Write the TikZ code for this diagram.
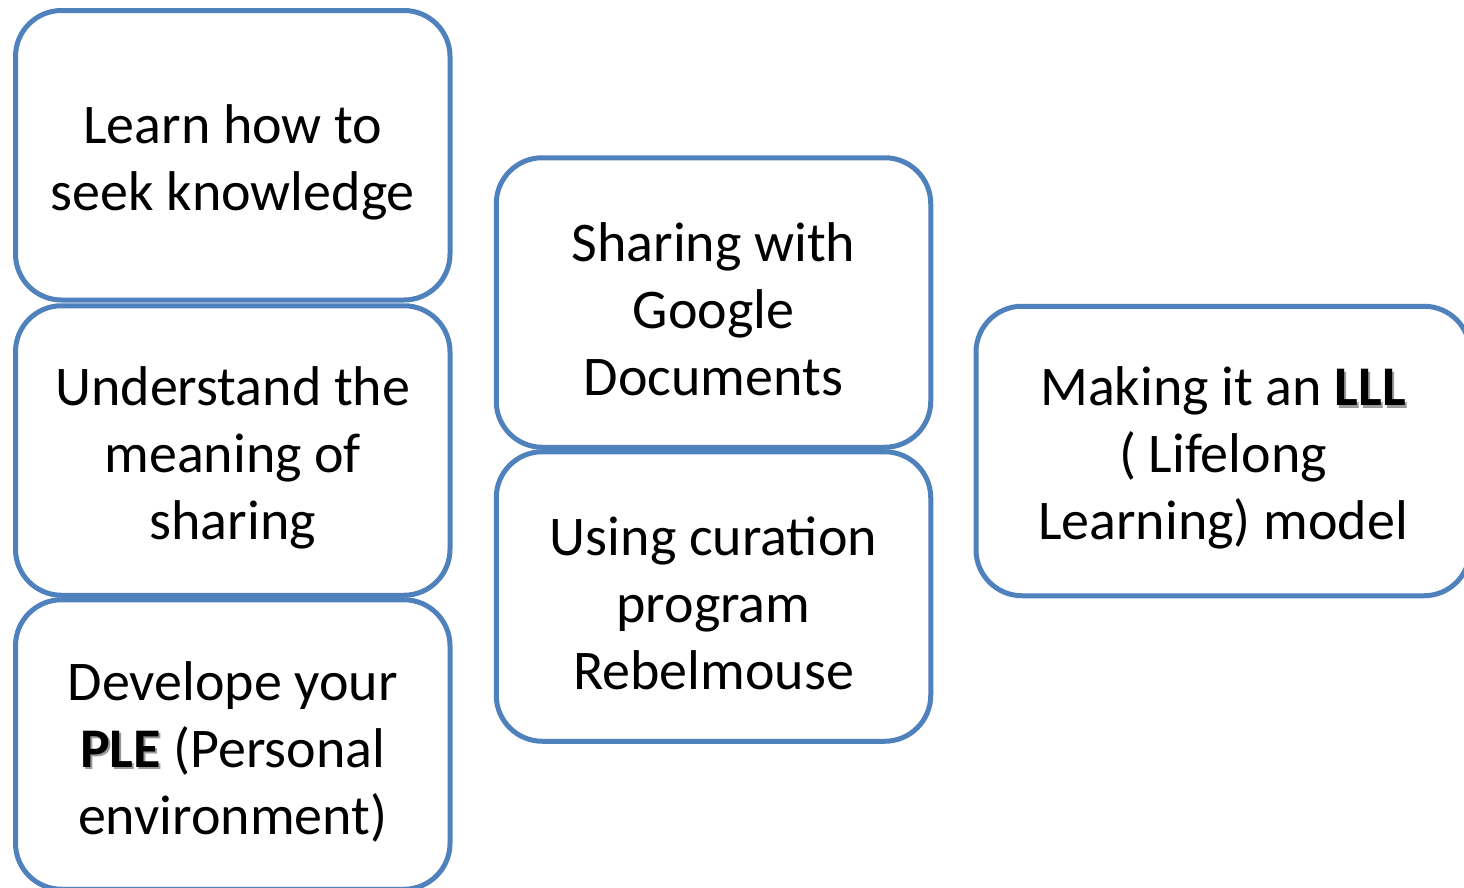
\documentclass[tikz,border=0pt]{standalone}
\usepackage{fontspec}
\setmainfont{Carlito}
\definecolor{boxblue}{HTML}{4F81BD}
\definecolor{shadowgray}{HTML}{9A9A9A}
\newcommand{\shbold}[1]{\makebox[0pt][l]{\hspace{2pt}\raisebox{-2.5pt}{\color{shadowgray}\textbf{#1}}}\textbf{#1}}
\newcommand{\tstrut}{\rule{0pt}{53pt}}
\begin{document}
\begin{tikzpicture}[x=1pt,y=-1pt,
  card/.style={draw=boxblue, line width=5pt, rounded corners=46pt, fill=white,
    minimum width=434.5pt, minimum height=289.5pt, inner sep=0pt,
    align=center, font=\fontsize{56pt}{67pt}\selectfont, text=black}]
\useasboundingbox (0,0) rectangle (1464,887);
\clip (0,0) rectangle (1464,887);
\node[card] (learn) at (232.75,155.25) {\tstrut Learn how to\\seek knowledge};
\node[card] (understand) at (232.75,450.5) {\tstrut Understand the\\meaning of\\sharing};
\node[card] (ple) at (232.75,744.5) {\tstrut Develope your\\\shbold{PLE} (Personal\\environment)};
\node[card] (google) at (713.5,302.5) {\tstrut Sharing with\\Google\\Documents};
\node[card] (curation) at (713.5,596.5) {\tstrut Using curation\\program\\Rebelmouse};
\node[card, minimum width=494pt] (lll) at (1223,451) {\tstrut Making it an \shbold{LLL}\\( Lifelong\\Learning) model};
\end{tikzpicture}
\end{document}
